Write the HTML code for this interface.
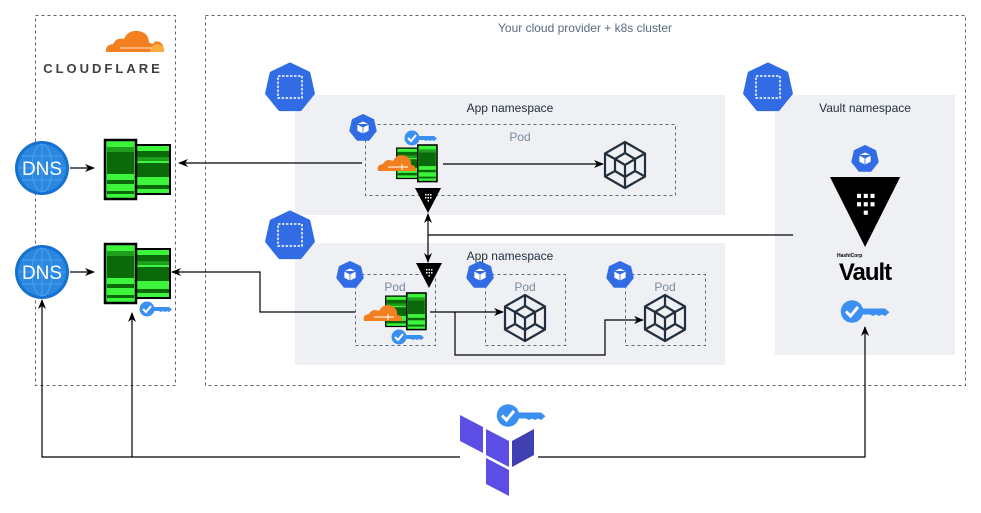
<!DOCTYPE html>
<html><head><meta charset="utf-8"><style>
html,body{margin:0;padding:0;background:#fff;}
svg{display:block;font-family:"Liberation Sans",sans-serif;}
</style></head><body>
<svg width="981" height="513" viewBox="0 0 981 513" xmlns="http://www.w3.org/2000/svg">
<defs>
<marker id="ar" markerWidth="10" markerHeight="8" refX="9" refY="4" orient="auto" markerUnits="userSpaceOnUse"><path d="M0,0 L10,4 L0,8 L3,4 Z" fill="#000"/></marker>
<g id="hept"><polygon points="0,-24 18.8,-15 23.4,5.4 10.4,21.6 -10.4,21.6 -23.4,5.4 -18.8,-15" fill="#326ce5" stroke="#326ce5" stroke-width="3" stroke-linejoin="round"/><rect x="-12" y="-12" width="24" height="22" fill="none" stroke="#fff" stroke-width="1.5" stroke-dasharray="2.5,1.5"/></g>
<g id="podi"><polygon points="0,-13 10.2,-8.1 12.7,2.9 5.6,11.7 -5.6,11.7 -12.7,2.9 -10.2,-8.1" fill="#326ce5" stroke="#326ce5" stroke-width="2" stroke-linejoin="round"/><path d="M0,-7 L6,-4 L6,3 L0,6 L-6,3 L-6,-4 Z M-6,-4 L0,-1 L6,-4 M0,-1 L0,6" fill="#fff" stroke="#326ce5" stroke-width="0.8"/></g>
<g id="cube" fill="none" stroke="#232f3e" stroke-width="2.2" stroke-linejoin="round"><path d="M20,0 L40,11.5 L40,34.5 L20,46 L0,34.5 L0,11.5 Z"/><path d="M20,11 L30,17 L30,29 L20,35 L10,29 L10,17 Z"/><path d="M10,17 L20,23 L30,17 M20,23 L20,35 M20,0 L20,11 M0,11.5 L10,17 M40,11.5 L30,17 M0,34.5 L10,29 M40,34.5 L30,29 M20,46 L20,35"/></g>
<g id="key"><circle cx="8" cy="7" r="7.5" fill="#3b8ff0"/><path d="M4,7 L7,10 L12,4" stroke="#fff" stroke-width="2" fill="none"/><path d="M14,5 L30,5 L33,7.5 L30,10 L28,9 L26,10 L24,9 L22,10 L20,9 L14,9 Z" fill="#3b8ff0"/></g>
<g id="tun"><rect x="31" y="5" width="34" height="49" fill="#3df53d" stroke="#000" stroke-width="2"/><rect x="32" y="11" width="32" height="6" fill="#0a6a0a"/><rect x="32" y="17" width="32" height="4" fill="#1d9e1d"/><rect x="32" y="23" width="32" height="14" fill="#0a6a0a"/><rect x="32" y="45" width="32" height="4" fill="#0a6a0a"/><rect x="0" y="0" width="31" height="59" fill="#3df53d" stroke="#000" stroke-width="2.5"/><rect x="2" y="7" width="27" height="5" fill="#1d9e1d"/><rect x="2" y="12" width="27" height="22" fill="#0a6a0a"/><rect x="2" y="40" width="27" height="4" fill="#0a6a0a"/><rect x="2" y="51" width="27" height="3" fill="#0a6a0a"/></g>
<g id="cloud"><path d="M2,18 Q0,12 7,11 Q10,5 17,8 Q21,0 30,3 Q36,6 35,12 Q40,12 40,18 Z" fill="#f38020"/><path d="M12,14 L32,14 M26,11 L26,17" stroke="#fff" stroke-width="1"/></g>
<g id="vtri"><polygon points="0,0 26,0 13,25" fill="#000"/><g fill="#fff"><rect x="10" y="6" width="1.5" height="1.5"/><rect x="12.5" y="6" width="1.5" height="1.5"/><rect x="15" y="6" width="1.5" height="1.5"/><rect x="10" y="9" width="1.5" height="1.5"/><rect x="12.5" y="9" width="1.5" height="1.5"/><rect x="15" y="9" width="1.5" height="1.5"/><rect x="12.5" y="12" width="1.5" height="1.5"/></g></g>
<g id="dns"><circle cx="0" cy="0" r="27" fill="#1570d0"/><circle cx="0" cy="0" r="24" fill="#2a88e0"/><g fill="none" stroke="#5aa8f0" stroke-width="0.8"><ellipse cx="0" cy="0" rx="10" ry="24"/><path d="M-24,0 H24 M-20,-12 H20 M-20,12 H20 M0,-24 V24"/></g><text x="0" y="7" font-size="19" fill="#fff" text-anchor="middle">DNS</text></g>
</defs>

<rect x="35.5" y="15.5" width="140" height="370" fill="none" stroke="#5a6270" stroke-dasharray="3,3"/>
<rect x="205.5" y="15.5" width="760" height="370" fill="none" stroke="#5a6270" stroke-dasharray="3,3"/>
<text x="585" y="32" font-size="12" fill="#5a6a80" text-anchor="middle">Your cloud provider + k8s cluster</text>

<!-- cloudflare logo -->
<path d="M106,52 Q105,45 113,44 Q117,37 124,39 Q128,30 138,31 Q148,32 149,42 Q151,44 153,44 Q155,40 160,42 Q164,45 164,52 Z" fill="#f38020"/>
<path d="M150,52 Q151,45 157,44 Q164,45 164,52 Z" fill="#faad3f"/>
<path d="M120,48 H152" stroke="#fff" stroke-width="0.8"/>
<text x="103" y="73" font-size="13" font-weight="bold" fill="#404041" text-anchor="middle" letter-spacing="3">CLOUDFLARE</text>

<rect x="295" y="95" width="430" height="120" fill="#eef0f4"/>
<rect x="295" y="243" width="430" height="122" fill="#eef0f4"/>
<rect x="775" y="95" width="180" height="260" fill="#eef0f4"/>
<use href="#hept" x="290" y="88"/>
<use href="#hept" x="290" y="236"/>
<use href="#hept" x="768" y="88"/>
<text x="510" y="112" font-size="12" fill="#232f3e" text-anchor="middle">App namespace</text>
<text x="510" y="260" font-size="12" fill="#232f3e" text-anchor="middle">App namespace</text>
<text x="865" y="112" font-size="12" fill="#232f3e" text-anchor="middle">Vault namespace</text>

<g fill="none" stroke="#5a6a80" stroke-dasharray="3,3">
<rect x="365.5" y="124.5" width="310" height="71"/>
<rect x="355.5" y="274.5" width="80" height="71"/>
<rect x="485.5" y="274.5" width="80" height="71"/>
<rect x="625.5" y="274.5" width="80" height="71"/>
</g>
<g font-size="12" fill="#7a8aa0" text-anchor="middle">
<text x="520" y="141">Pod</text><text x="395" y="291">Pod</text><text x="525" y="291">Pod</text><text x="665" y="291">Pod</text>
</g>
<use href="#podi" x="363" y="128"/>
<use href="#podi" x="350" y="275"/>
<use href="#podi" x="480" y="275"/>
<use href="#podi" x="620" y="275"/>

<use href="#cube" x="605" y="142"/>
<use href="#cube" x="505" y="295"/>
<use href="#cube" x="645" y="295"/>

<g transform="translate(437,145) scale(-0.62,0.62)"><use href="#tun"/></g>
<use href="#cloud" x="376" y="153"/>
<use href="#key" x="404" y="131"/>
<use href="#vtri" x="415" y="188"/>

<g transform="translate(426,293) scale(-0.62,0.62)"><use href="#tun"/></g>
<use href="#cloud" x="362" y="303"/>
<use href="#key" x="391" y="330"/>
<use href="#vtri" x="416" y="263"/>

<use href="#dns" x="42" y="168"/>
<use href="#dns" x="42" y="272"/>
<use href="#tun" x="105" y="140"/>
<use href="#tun" x="105" y="244"/>
<use href="#key" x="139" y="302"/>

<use href="#podi" x="865" y="159"/>
<g transform="translate(830,177) scale(2.7,2.8)"><use href="#vtri"/></g>
<text x="837" y="257" font-size="5" font-weight="bold" fill="#000">HashiCorp</text>
<text x="865" y="280" font-size="24" font-weight="bold" fill="#000" text-anchor="middle" letter-spacing="-1">Vault</text>
<g transform="translate(840,301) scale(1.5)"><use href="#key"/></g>

<g fill="#5c4ee5"><polygon points="460,415 483,427 483,453 460,441"/><polygon points="486,429 509,441 509,467 486,455"/><polygon points="486,458 509,470 509,496 486,484"/></g>
<polygon points="512,441 534,429 534,455 512,467" fill="#4040b2"/>
<g transform="translate(496,405) scale(1.5)"><use href="#key"/></g>

<g fill="none" stroke="#000" stroke-width="1.2">
<path d="M70,168 H94" marker-end="url(#ar)"/>
<path d="M70,272 H94" marker-end="url(#ar)"/>
<path d="M362,163 H179" marker-end="url(#ar)"/>
<path d="M355,312 H260 V272 H172" marker-end="url(#ar)"/>
<path d="M443,164 H603" marker-end="url(#ar)"/>
<path d="M430,312 H503" marker-end="url(#ar)"/>
<path d="M455,312 V355 H605 V320 H643" marker-end="url(#ar)"/>
<path d="M428,235 V214" marker-end="url(#ar)"/>
<path d="M428,235 V262" marker-end="url(#ar)"/>
<path d="M428,235 H793"/>
<path d="M460,457 H42 V300" marker-end="url(#ar)"/>
<path d="M132,457 V313" marker-end="url(#ar)"/>
<path d="M538,457 H865 V327" marker-end="url(#ar)"/>
</g>
</svg>
</body></html>
